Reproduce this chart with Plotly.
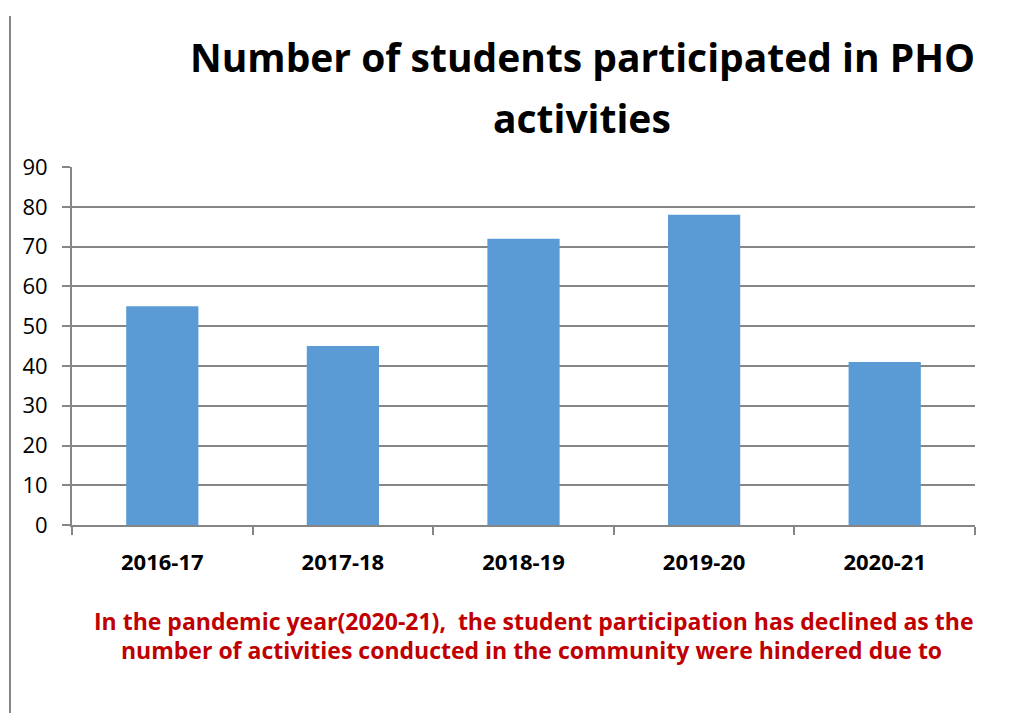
import plotly.graph_objects as go

categories = ["2016-17", "2017-18", "2018-19", "2019-20", "2020-21"]
students = [55, 45, 72, 78, 41]
y_ticks = [0, 10, 20, 30, 40, 50, 60, 70, 80, 90]

title_lines = ["Number of students participated in PHO", "activities"]
note_lines = [
    "In the pandemic year(2020-21),  the student participation has declined as the",
    "number of activities conducted in the community were hindered due to",
]

W, H = 1022, 727
FONT = "Open Sans"
TOP, HEFF = 14, 701  # observed vertical mapping of the page in the screenshot


def py(y_img):
    return 1 - (y_img - TOP) / HEFF


fig = go.Figure()
fig.add_trace(go.Bar(
    x=categories, y=students,
    marker=dict(color="#5B9BD5", line=dict(width=0)),
    width=0.4,
))

annotations = []
for txt, yc in zip(title_lines, [55, 116]):
    annotations.append(dict(text=txt, x=582 / W, y=py(yc), xref="paper", yref="paper",
                            xanchor="center", yanchor="middle", showarrow=False,
                            font=dict(family=FONT, size=39, color="black", weight="bold")))
for txt, xc, yc in zip(note_lines, [533, 531], [622, 652]):
    annotations.append(dict(text=txt, x=xc / W, y=py(yc), xref="paper", yref="paper",
                            xanchor="center", yanchor="middle", showarrow=False,
                            font=dict(family=FONT, size=23, color="#C00000", weight="bold")))

fig.update_layout(
    width=W, height=H,
    margin=dict(l=0, r=0, t=0, b=0),
    paper_bgcolor="white", plot_bgcolor="white",
    showlegend=False,
    font=dict(family=FONT, color="black"),
    xaxis=dict(
        domain=[72 / W, 975 / W],
        type="category",
        showline=True, linecolor="#868686", linewidth=2,
        ticks="outside", tickson="boundaries", ticklen=8, tickcolor="#868686", tickwidth=2,
        tickfont=dict(family=FONT, size=22, color="black", weight="bold"),
        ticklabelstandoff=17,
        showgrid=False,
    ),
    yaxis=dict(
        domain=[py(526), py(166)],
        range=[0, 90],
        tickvals=y_ticks,
        showline=True, linecolor="#868686", linewidth=2,
        ticks="outside", ticklen=8, tickcolor="#868686", tickwidth=2,
        showgrid=True, gridcolor="#868686", gridwidth=1.5,
        tickfont=dict(family=FONT, size=22, color="black"),
        ticklabelstandoff=10,
        zeroline=False,
    ),
    annotations=annotations,
    shapes=[
        dict(type="line", xref="paper", yref="paper", x0=10 / W, x1=10 / W,
             y0=0, y1=1, line=dict(color="#868686", width=2)),
    ],
)

fig.write_html("out.html",
               config={"displayModeBar": False},
               post_script="document.body.style.margin='0';document.body.style.overflow='hidden';")
